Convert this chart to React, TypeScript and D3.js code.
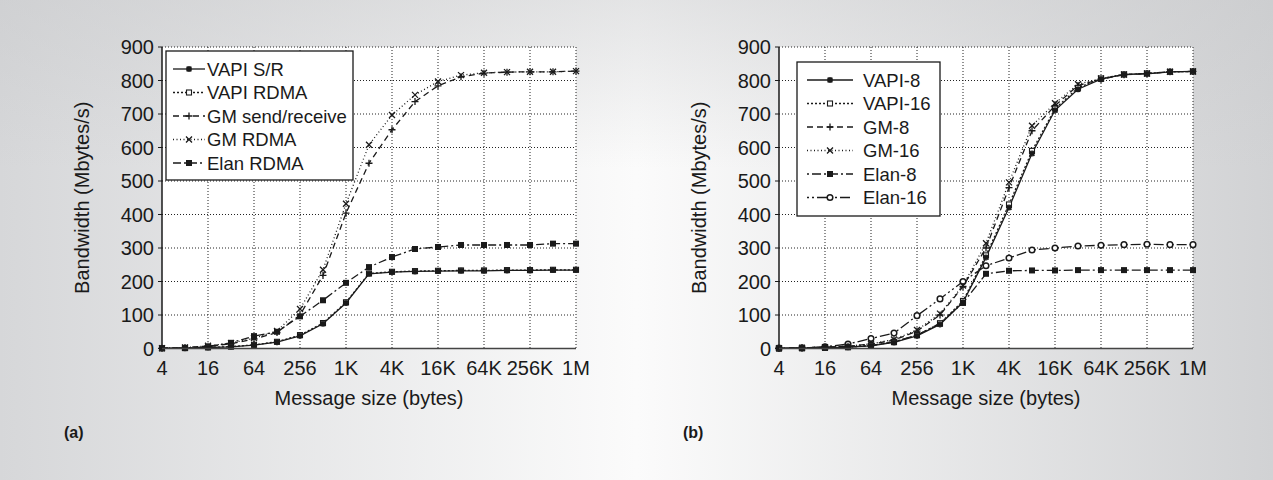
import React from 'react';
import * as d3 from 'd3';

// message sizes in bytes (x positions of all points)
const SIZES = [4, 8, 16, 32, 64, 128, 256, 512, 1024, 2048, 4096, 8192, 16384, 32768, 65536, 131072, 262144, 524288, 1048576];
const TICK_VALUES = [4, 16, 64, 256, 1024, 4096, 16384, 65536, 262144, 1048576];
const TICK_LABELS = ['4', '16', '64', '256', '1K', '4K', '16K', '64K', '256K', '1M'];
const Y_TICKS = [0, 100, 200, 300, 400, 500, 600, 700, 800, 900];

// panel (a)
const VAPI_SR = [0.5, 1, 3, 5, 10, 19, 38, 74, 136, 223, 228, 230, 231, 232, 232, 233, 233, 234, 234];
const VAPI_RDMA = [0.6, 1.2, 3.2, 5.5, 11, 20, 40, 76, 138, 224, 229, 231, 232, 233, 233, 234, 234, 235, 235];
const GM_SR = [1, 3, 7, 14, 28, 48, 100, 218, 404, 553, 653, 737, 784, 811, 822, 825, 826, 826, 828];
const GM_RDMA = [1, 3, 8, 16, 31, 52, 118, 235, 432, 608, 697, 757, 797, 816, 823, 825, 826, 826, 828];
const ELAN_RDMA = [1, 2, 5, 17, 37, 50, 96, 144, 196, 243, 273, 297, 303, 309, 309, 309, 309, 313, 313];

// panel (b)
const VAPI_8 = [0.5, 1, 2, 4, 8, 18, 38, 72, 138, 272, 421, 582, 711, 774, 804, 818, 820, 826, 827];
const VAPI_16 = [0.5, 1, 2, 4, 9, 19, 40, 75, 142, 278, 430, 590, 716, 778, 806, 818, 821, 826, 827];
const GM_8 = [1, 2, 4, 7, 13, 25, 52, 100, 185, 300, 480, 650, 725, 785, 804, 817, 821, 826, 827];
const GM_16 = [1, 2, 4, 7, 14, 27, 55, 104, 188, 314, 496, 665, 732, 789, 806, 818, 821, 826, 827];
const ELAN_8 = [0.5, 1, 2, 4, 9, 20, 40, 75, 136, 223, 232, 233, 233, 234, 234, 234, 234, 234, 234];
const ELAN_16 = [1, 2, 5, 13, 30, 46, 98, 148, 200, 247, 270, 294, 300, 306, 308, 310, 311, 310, 310];

type Marker = 'star' | 'osquare' | 'plus' | 'cross' | 'fsquare' | 'ocircle';
interface Series { name: string; values: number[]; dash: string; marker: Marker; }

const SERIES_A: Series[] = [
  { name: 'VAPI S/R', values: VAPI_SR, dash: '', marker: 'star' },
  { name: 'VAPI RDMA', values: VAPI_RDMA, dash: '2,2', marker: 'osquare' },
  { name: 'GM send/receive', values: GM_SR, dash: '6,4', marker: 'plus' },
  { name: 'GM RDMA', values: GM_RDMA, dash: '1,2.5', marker: 'cross' },
  { name: 'Elan RDMA', values: ELAN_RDMA, dash: '8,3,2,3', marker: 'fsquare' },
];

const SERIES_B: Series[] = [
  { name: 'VAPI-8', values: VAPI_8, dash: '', marker: 'star' },
  { name: 'VAPI-16', values: VAPI_16, dash: '2,2', marker: 'osquare' },
  { name: 'GM-8', values: GM_8, dash: '6,4', marker: 'plus' },
  { name: 'GM-16', values: GM_16, dash: '1,2.5', marker: 'cross' },
  { name: 'Elan-8', values: ELAN_8, dash: '2,3,9,3', marker: 'fsquare' },
  { name: 'Elan-16', values: ELAN_16, dash: '2,3,2,3,10,3', marker: 'ocircle' },
];

const INK = '#1a1a1a';
const FONT = 'Liberation Sans, Arial, Helvetica, sans-serif';

const MarkerShape: React.FC<{ type: Marker; x: number; y: number }> = ({ type, x, y }) => {
  const t = `translate(${x},${y})`;
  switch (type) {
    case 'star':
      return <path transform={t} d="M-3,0H3M0,-3V3M-2.4,-2.4L2.4,2.4M-2.4,2.4L2.4,-2.4" stroke={INK} strokeWidth={1.6} fill="none" />;
    case 'osquare':
      return <rect transform={t} x={-2.5} y={-2.5} width={5} height={5} fill="#fff" stroke={INK} strokeWidth={1.1} />;
    case 'plus':
      return <path transform={t} d="M-3.5,0H3.5M0,-3.5V3.5" stroke={INK} strokeWidth={1.3} fill="none" />;
    case 'cross':
      return <path transform={t} d="M-3,-3L3,3M-3,3L3,-3" stroke={INK} strokeWidth={1.3} fill="none" />;
    case 'fsquare':
      return <rect transform={t} x={-3} y={-3} width={6} height={6} fill={INK} />;
    case 'ocircle':
      return <circle transform={t} r={2.8} fill="#fff" stroke={INK} strokeWidth={1.5} />;
  }
  return null;
};

interface PanelProps {
  x0: number;
  series: Series[];
  legend: { x: number; y: number; w: number; h: number; row0: number; lineX0: number; lineX1: number; textX: number };
  tag: string;
  tagX: number;
  labelX: number;
}

const Panel: React.FC<PanelProps> = ({ x0, series, legend, tag, tagX, labelX }) => {
  const x = d3.scaleLog().base(2).domain([4, 1048576]).range([x0, x0 + 414]);
  const y = d3.scaleLinear().domain([0, 900]).range([348.5, 47]);
  const line = d3.line<number>().x((_, i) => x(SIZES[i])).y(d => y(d));
  const [xa, xb] = x.range();
  const [yb, yt] = y.range();

  return (
    <g fontFamily={FONT} fill={INK}>
      <rect x={xa} y={yt} width={xb - xa} height={yb - yt} fill="#fff" />
      {/* grid */}
      {Y_TICKS.slice(1).map(v => (
        <line key={'h' + v} x1={xa} x2={xb} y1={y(v)} y2={y(v)} stroke="#222" strokeWidth={1} strokeDasharray="1,2" />
      ))}
      {TICK_VALUES.slice(1).map(v => (
        <line key={'v' + v} x1={x(v)} x2={x(v)} y1={yt} y2={yb} stroke="#222" strokeWidth={1} strokeDasharray="1,2" />
      ))}
      {/* series */}
      {series.map(s => (
        <path key={s.name} d={line(s.values) || ''} fill="none" stroke={INK} strokeWidth={1.3} strokeDasharray={s.dash || undefined} />
      ))}
      {/* markers, first series drawn last so it sits on top */}
      {[...series].reverse().map(s => s.values.map((v, i) => (
        <MarkerShape key={s.name + i} type={s.marker} x={x(SIZES[i])} y={y(v)} />
      )))}
      {/* axes */}
      <line x1={xa} x2={xa} y1={yt} y2={yb} stroke={INK} strokeWidth={1.5} />
      <line x1={xa} x2={xb} y1={yb} y2={yb} stroke="#444" strokeWidth={1.5} />
      {Y_TICKS.map(v => (
        <g key={'yt' + v}>
          <line x1={xa - 4} x2={xa} y1={y(v)} y2={y(v)} stroke={INK} strokeWidth={1} />
          <text x={xa - 8} y={y(v)} dy="0.36em" textAnchor="end" fontSize={20}>{v}</text>
        </g>
      ))}
      {TICK_VALUES.map((v, i) => (
        <text key={'xt' + v} x={x(v)} y={375} textAnchor="middle" fontSize={20}>{TICK_LABELS[i]}</text>
      ))}
      <text x={(xa + xb) / 2} y={405} textAnchor="middle" fontSize={20}>Message size (bytes)</text>
      <text transform={`translate(${labelX},${(yt + yb) / 2}) rotate(-90)`} textAnchor="middle" fontSize={20}>Bandwidth (Mbytes/s)</text>
      {/* legend */}
      <rect x={legend.x} y={legend.y} width={legend.w} height={legend.h} fill="#fff" stroke={INK} strokeWidth={1.3} />
      {series.map((s, i) => {
        const ly = legend.row0 + i * 23.5;
        const mx = (legend.lineX0 + legend.lineX1) / 2;
        return (
          <g key={'lg' + s.name}>
            <line x1={legend.lineX0} x2={legend.lineX1} y1={ly} y2={ly} stroke={INK} strokeWidth={1.3} strokeDasharray={s.dash || undefined} />
            <MarkerShape type={s.marker} x={mx} y={ly} />
            <text x={legend.textX} y={ly} dy="0.36em" fontSize={18.5}>{s.name}</text>
          </g>
        );
      })}
      <text x={tagX} y={438} fontSize={16} fontWeight="bold">{tag}</text>
    </g>
  );
};

export default function App() {
  return (
    <svg width={1273} height={480} style={{ position: 'absolute', left: 0, top: 0 }}>
      <defs>
        <linearGradient id="bgH" x1="0" x2="1" y1="0" y2="0">
          <stop offset="0%" stopColor="#d6d7d9" />
          <stop offset="50%" stopColor="#fbfbfb" />
          <stop offset="100%" stopColor="#d1d2d4" />
        </linearGradient>
        <linearGradient id="bgV" x1="0" x2="0" y1="0" y2="1">
          <stop offset="0%" stopColor="#c8c9cb" stopOpacity={0.45} />
          <stop offset="35%" stopColor="#c8c9cb" stopOpacity={0} />
        </linearGradient>
      </defs>
      <rect width={1273} height={480} fill="url(#bgH)" />
      <rect width={1273} height={480} fill="url(#bgV)" />
      <Panel
        x0={162}
        series={SERIES_A}
        legend={{ x: 166, y: 51, w: 187, h: 129, row0: 69, lineX0: 173, lineX1: 205, textX: 207 }}
        tag="(a)"
        tagX={64}
        labelX={89}
      />
      <Panel
        x0={779}
        series={SERIES_B}
        legend={{ x: 797, y: 62, w: 143, h: 154, row0: 80, lineX0: 807, lineX1: 853, textX: 863 }}
        tag="(b)"
        tagX={683}
        labelX={706}
      />
    </svg>
  );
}
